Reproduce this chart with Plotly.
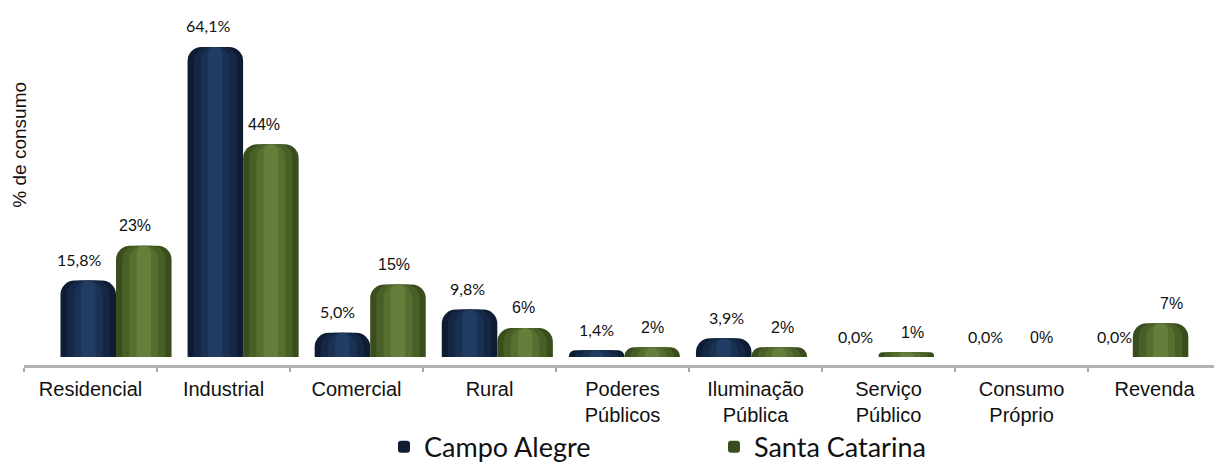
import plotly.graph_objects as go

# Consumption share by class: Campo Alegre vs. Santa Catarina
categories = ["Residencial", "Industrial", "Comercial", "Rural",
              "Poderes<br>Públicos", "Iluminação<br>Pública", "Serviço<br>Público",
              "Consumo<br>Próprio", "Revenda"]
campo_alegre = [15.8, 64.1, 5.0, 9.8, 1.4, 3.9, 0.0, 0.0, 0.0]
santa_catarina = [23, 44, 15, 6, 2, 2, 1, 0, 7]
series_names = ["Campo Alegre", "Santa Catarina"]

# cylinder-like shading: (width fraction, colour) from outer edge to highlight
CA_SHADES = [(1.0, "#0e1c34"), (0.78, "#142744"), (0.52, "#1a3152"), (0.26, "#223d63")]
SC_SHADES = [(1.0, "#3a4d1d"), (0.78, "#485f26"), (0.52, "#566f30"), (0.26, "#647f3b")]

BAR_W = 0.437
RADIUS = 14

fig = go.Figure()

# invisible trace that carries the visible category axis
fig.add_trace(go.Scatter(x=categories, y=[0] * len(categories), mode="markers",
                         marker=dict(opacity=0), hoverinfo="skip", showlegend=False,
                         xaxis="x", yaxis="y"))


def add_cylinders(values, name, shades, base_offset):
    for k, (frac, color) in enumerate(shades):
        w = BAR_W * frac
        fig.add_trace(go.Bar(
            x=categories, y=values, name=name,
            width=w, offset=base_offset + (BAR_W - w) / 2,
            marker=dict(color=color, line=dict(width=0),
                        cornerradius=min(RADIUS, int(w * 127 / 2))),
            showlegend=(k == 0), legendgroup=name,
            hoverinfo="skip" if k else None,
            xaxis="x2", yaxis="y",
        ))


add_cylinders(campo_alegre, series_names[0], CA_SHADES, -BAR_W)
add_cylinders(santa_catarina, series_names[1], SC_SHADES, 0.0)

# anchor trace for the value-label axis
fig.add_trace(go.Scatter(x=categories, y=[0] * len(categories), mode="markers",
                         marker=dict(opacity=0), hoverinfo="skip", showlegend=False,
                         xaxis="x3", yaxis="y"))

# value labels
annotations = []
LBL_OFF = 0.218
for i, v in enumerate(campo_alegre):
    annotations.append(dict(
        x=i - LBL_OFF, y=v, xref="x3", yref="y", yshift=21,
        text=f"{v:.1f}".replace(".", ",") + "%", showarrow=False,
        xanchor="center", yanchor="middle",
        font=dict(family="Lato", size=16, color="#111111")))
for i, v in enumerate(santa_catarina):
    annotations.append(dict(
        x=i + LBL_OFF, y=v, xref="x3", yref="y", yshift=20,
        text=f"{v:.0f}%", showarrow=False,
        xanchor="center", yanchor="middle",
        font=dict(family="Liberation Sans, Arial", size=16, color="#111111")))

# vertical axis title
annotations.append(dict(
    x=-0.0038, y=0.605, xref="paper", yref="paper", text="% de consumo",
    textangle=-90, showarrow=False, xanchor="center", yanchor="middle",
    font=dict(family="Liberation Sans, Arial", size=19, color="#111111")))

fig.update_layout(
    width=1214, height=465,
    margin=dict(l=24, r=0, t=0, b=100, autoexpand=False),
    paper_bgcolor="white", plot_bgcolor="white",
    barmode="overlay",
    showlegend=True,
    legend=dict(orientation="h", x=0.3025, xanchor="left", y=-0.158, yanchor="top",
                entrywidth=285, traceorder="normal",
                font=dict(family="Lato", size=27, color="#111111"),
                bgcolor="rgba(0,0,0,0)"),
    annotations=annotations,
    xaxis=dict(type="category", categoryorder="array", categoryarray=categories,
               range=[-0.5, 8.447], tickson="boundaries",
               ticks="outside", ticklen=4, tickwidth=2, tickcolor="#a6a6a6",
               showline=True, linecolor="#b3b3b3", linewidth=3,
               showgrid=False, zeroline=False, ticklabelstandoff=4,
               tickfont=dict(family="Liberation Sans, Arial", size=20, color="#111111")),
    xaxis2=dict(type="category", categoryorder="array", categoryarray=categories,
                overlaying="x", range=[-0.724, 8.639], visible=False),
    xaxis3=dict(type="category", categoryorder="array", categoryarray=categories,
                overlaying="x", range=[-0.639, 8.550], visible=False),
    yaxis=dict(range=[-1.65, 73.8], visible=False, showgrid=False, zeroline=False),
)

fig.write_html("out.html")
